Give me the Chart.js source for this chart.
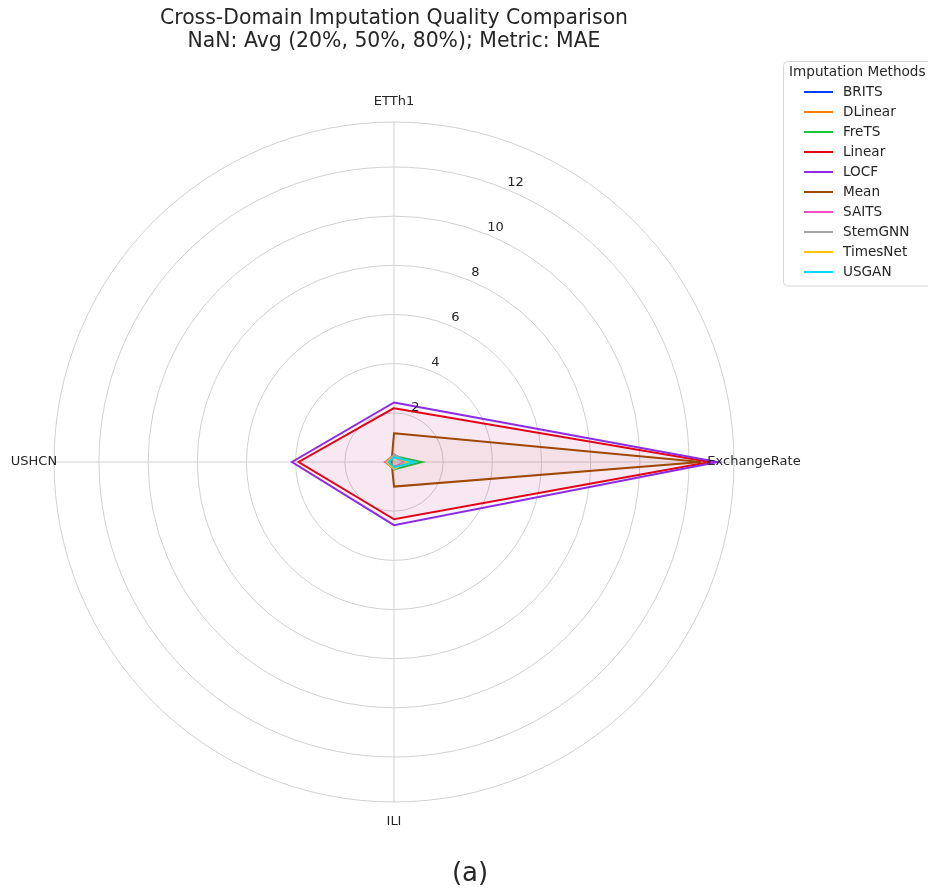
<!DOCTYPE html>
<html><head><meta charset="utf-8">
<script src="https://cdn.jsdelivr.net/npm/chart.js@4/dist/chart.umd.min.js"></script>
<style>html,body{margin:0;padding:0;background:#fff;}#wrap{width:928px;height:892px;position:relative;}</style>
</head><body><div id="wrap"><canvas id="c" width="928" height="892"></canvas></div>
<script>
// ---- data ----
const categories = ['ETTh1', 'ExchangeRate', 'ILI', 'USHCN'];
const methods = ['BRITS', 'DLinear', 'FreTS', 'Linear', 'LOCF', 'Mean', 'SAITS', 'StemGNN', 'TimesNet', 'USGAN'];
const BRITS    = [0.30, 0.55, 0.25, 0.25];
const DLinear  = [0.30, 0.50, 0.30, 0.35];
const FreTS    = [0.24, 1.13, 0.30, 0.25];
const Linear   = [2.19, 12.85, 2.33, 3.88];
const LOCF     = [2.42, 13.17, 2.57, 4.15];
const Mean     = [1.17, 12.50, 1.00, 0.10];
const SAITS    = [0.20, 0.45, 0.20, 0.36];
const StemGNN  = [0.30, 0.55, 0.30, 0.30];
const TimesNet = [0.20, 0.60, 0.27, 0.29];
const USGAN    = [0.19, 0.83, 0.22, 0.22];
const tickValues = [2, 4, 6, 8, 10, 12];
const rMax = 13.83;
const titleLines = ['Cross-Domain Imputation Quality Comparison', 'NaN: Avg (20%, 50%, 80%); Metric: MAE'];
const legendTitle = 'Imputation Methods';
const caption = '(a)';

const seriesValues = [BRITS, DLinear, FreTS, Linear, LOCF, Mean, SAITS, StemGNN, TimesNet, USGAN];
const colors = ['#023eff', '#ff7c00', '#1ac938', '#e8000b', '#8b2be2', '#9f4800', '#f14cc1', '#a3a3a3', '#ffc400', '#00d7ff'];

function hexA(hex, a) {
  const n = parseInt(hex.slice(1), 16);
  return `rgba(${(n >> 16) & 255},${(n >> 8) & 255},${n & 255},${a})`;
}

const FONT = '"DejaVu Sans", sans-serif';
const TXT = '#262626';

const decor = {
  id: 'decor',
  afterDraw(chart) {
    const ctx = chart.ctx;
    const s = chart.scales.r;
    ctx.save();
    ctx.fillStyle = TXT;
    // radial tick labels
    ctx.font = '13px ' + FONT;
    ctx.textAlign = 'center';
    ctx.textBaseline = 'middle';
    const ang = 24 * Math.PI / 180;
    tickValues.forEach(v => {
      const d = s.getDistanceFromCenterForValue(v);
      ctx.fillText(String(v), s.xCenter + d * Math.sin(ang) + 1.5, s.yCenter - d * Math.cos(ang) - 9.5);
    });
    // category labels
    categories.forEach((c, i) => {
      const p = s.getPointPosition(i, 360);
      ctx.fillText(c, p.x, p.y);
    });
    // title
    ctx.font = '20.4px ' + FONT;
    ctx.textBaseline = 'alphabetic';
    ctx.fillText(titleLines[0], 394, 24);
    ctx.fillText(titleLines[1], 394, 46.5);
    // caption
    ctx.font = '26px ' + FONT;
    ctx.fillText(caption, 470, 881);
    // legend
    const lx = 783.5, ly = 61.5, lw = 160, lh = 224.5, rr = 4;
    ctx.beginPath();
    ctx.moveTo(lx + rr, ly);
    ctx.lineTo(lx + lw - rr, ly);
    ctx.arcTo(lx + lw, ly, lx + lw, ly + rr, rr);
    ctx.lineTo(lx + lw, ly + lh - rr);
    ctx.arcTo(lx + lw, ly + lh, lx + lw - rr, ly + lh, rr);
    ctx.lineTo(lx + rr, ly + lh);
    ctx.arcTo(lx, ly + lh, lx, ly + lh - rr, rr);
    ctx.lineTo(lx, ly + rr);
    ctx.arcTo(lx, ly, lx + rr, ly, rr);
    ctx.closePath();
    ctx.fillStyle = 'rgba(255,255,255,0.85)';
    ctx.fill();
    ctx.strokeStyle = '#d6d6d6';
    ctx.lineWidth = 1;
    ctx.stroke();
    ctx.fillStyle = TXT;
    ctx.font = '13.6px ' + FONT;
    ctx.textAlign = 'left';
    ctx.textBaseline = 'middle';
    ctx.fillText(legendTitle, 789, 72);
    methods.forEach((m, i) => {
      const y = 92 + 20 * i;
      ctx.strokeStyle = colors[i];
      ctx.lineWidth = 2;
      ctx.beginPath();
      ctx.moveTo(804, y);
      ctx.lineTo(833, y);
      ctx.stroke();
      ctx.fillStyle = TXT;
      ctx.fillText(m, 843, y);
    });
    ctx.restore();
  }
};

new Chart(document.getElementById('c'), {
  type: 'radar',
  data: {
    labels: categories,
    datasets: methods.map((m, i) => ({
      label: m,
      data: seriesValues[i],
      borderColor: colors[i],
      backgroundColor: hexA(colors[i], 0.05),
      borderWidth: 2,
      pointRadius: 0,
      fill: 'origin',
      order: methods.length - i,
      tension: 0
    }))
  },
  options: {
    responsive: false,
    animation: false,
    devicePixelRatio: 1,
    layout: { padding: { left: 54.5, top: 122, right: 193.5, bottom: 90 } },
    plugins: { legend: { display: false }, tooltip: { enabled: false }, title: { display: false } },
    scales: {
      r: {
        min: 0,
        max: rMax,
        startAngle: 0,
        ticks: { display: false, stepSize: 2 },
        grid: { color: '#d0d0d0', lineWidth: 1, circular: true },
        angleLines: { color: '#d0d0d0', lineWidth: 1 },
        pointLabels: { display: false }
      }
    }
  },
  plugins: [decor]
});
</script>
</body></html>
